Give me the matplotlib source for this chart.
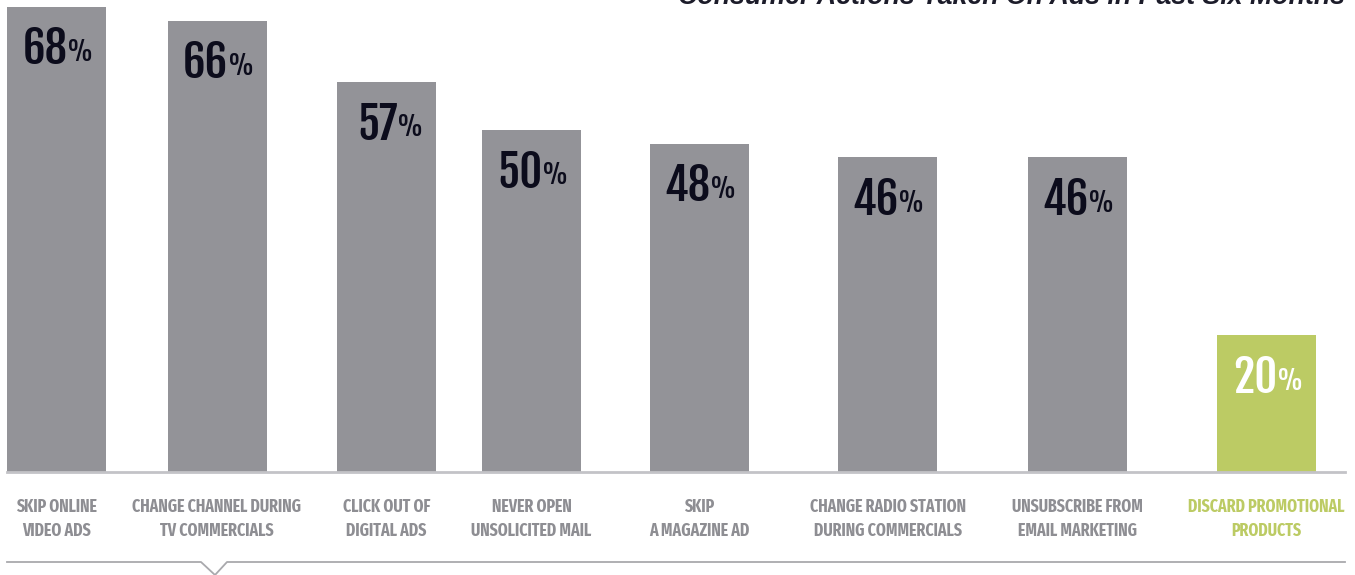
import matplotlib.pyplot as plt
from matplotlib.lines import Line2D
from matplotlib import font_manager as fm

# data
actions = ["SKIP ONLINE\nVIDEO ADS", "CHANGE CHANNEL DURING\nTV COMMERCIALS",
           "CLICK OUT OF\nDIGITAL ADS", "NEVER OPEN\nUNSOLICITED MAIL",
           "SKIP\nA MAGAZINE AD", "CHANGE RADIO STATION\nDURING COMMERCIALS",
           "UNSUBSCRIBE FROM\nEMAIL MARKETING", "DISCARD PROMOTIONAL\nPRODUCTS"]
pct = [68, 66, 57, 50, 48, 46, 46, 20]
title = "Consumer Actions Taken On Ads in Past Six Months"

# layout (bar centres in pixels, the original spacing is uneven)
xpos = [56.5, 217, 386.5, 531.5, 699.5, 887.5, 1077.5, 1266.5]

names = {f.name for f in fm.fontManager.ttflist}
def pick(*cands):
    for c in cands:
        if c in names:
            return c
    return "DejaVu Sans"

numfont = pick("Fjalla One", "Oswald", "Fira Sans Extra Condensed")
pctfont = pick("Oswald", "Fira Sans Extra Condensed")
lblfont = pick("Fira Sans Extra Condensed", "Fira Sans Condensed", "Liberation Sans Narrow")

gray = "#939398"
green = "#bccb64"
navy = "#0c0c1c"
lblgray = "#8e8e93"

W, H = 1355, 575
fig = plt.figure(figsize=(W / 100, H / 100), dpi=100)
ax = fig.add_axes([0, (H - 472) / H, 1, 472 / H])
ax.set_xlim(0, W)
ax.set_ylim(0, 69)

cols = [gray] * (len(pct) - 1) + [green]
ax.bar(xpos, pct, width=99, color=cols, zorder=2)

for x, v, c in zip(xpos, pct, cols):
    tc = "white" if c == green else navy
    ax.annotate(str(v), (x, v), xytext=(8, -31), textcoords="offset points",
                ha="right", va="center", fontsize=32, fontweight="bold",
                family=numfont, color=tc)
    ax.annotate("%", (x, v), xytext=(8.5, -33), textcoords="offset points",
                ha="left", va="center", fontsize=19.5, family=pctfont, color=tc)

ax.set_xticks(xpos)
ax.set_xticklabels(actions, family=lblfont, fontweight="bold", fontsize=12.4,
                   color=lblgray, linespacing=1.5)
ax.get_xticklabels()[-1].set_color(green)
ax.tick_params(axis="x", length=0, pad=18.5)
ax.set_yticks([])
for s in ax.spines.values():
    s.set_visible(False)

# baseline
ax.plot([7, 1345], [0, 0], color="#c3c3c7", lw=2, zorder=3, clip_on=False)

# bottom rule with small notch
def fy(py):
    return 1 - py / H
fig.add_artist(Line2D([7 / W, 201 / W, 215 / W, 227 / W, 1345 / W],
                      [fy(562), fy(562), fy(575), fy(562), fy(562)],
                      transform=fig.transFigure, color="#a9a9ad", lw=1.3))

fig.text(1345 / W, fy(4), title, ha="right", va="baseline", fontsize=19.3,
         fontweight="bold", fontstyle="italic", color="#1c1c2a", family="Liberation Sans")

fig.savefig("out.png", dpi=100)
